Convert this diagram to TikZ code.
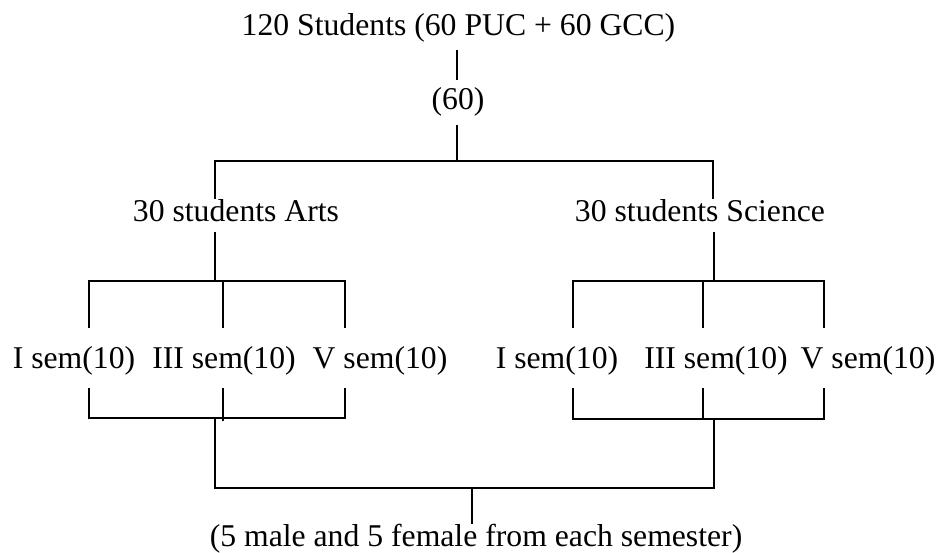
\documentclass[tikz,border=0pt]{standalone}
\usepackage{fontspec}
\setmainfont{Liberation Serif}
\begin{document}
\begin{tikzpicture}[x=1pt,y=-1pt,
  txt/.style={anchor=base, inner sep=0pt, font=\fontsize{31.7}{38}\selectfont},
  conn/.style={line width=1.5pt, line cap=rect}]
\useasboundingbox (0,0) rectangle (945,553);
% texts
\node[txt] (top)   at (458.5,36) {120 Students (60 PUC + 60 GCC)};
\node[txt] (sixty) at (458,110)  {(60)};
\node[txt] (arts)  at (236,222)  {30 students Arts};
\node[txt] (sci)   at (700,222)  {30 students Science};
\node[txt] (a1) at (74,368)  {I sem(10)};
\node[txt] (a3) at (224,368) {III sem(10)};
\node[txt] (a5) at (380,368) {V sem(10)};
\node[txt] (s1) at (557,368) {I sem(10)};
\node[txt] (s3) at (716,368) {III sem(10)};
\node[txt] (s5) at (868,368) {V sem(10)};
\node[txt] (bot) at (476,546.5) {(5 male and 5 female from each semester)};
% junction coordinates
\coordinate (t1) at (457,51);  \coordinate (t2) at (457,79);
\coordinate (m1) at (457,126); \coordinate (m2) at (457,161);
\coordinate (hl) at (215,161); \coordinate (hr) at (713,161);
\coordinate (al) at (215,198); \coordinate (sl) at (713,198);
% arts block
\coordinate (au) at (215,233); \coordinate (aj) at (215,281);
\coordinate (ab1) at (89,281); \coordinate (ab3) at (223,281); \coordinate (ab5) at (345,281);
\coordinate (ae1) at (89,327); \coordinate (ae3) at (223,327); \coordinate (ae5) at (345,327);
\coordinate (ad1) at (89,389); \coordinate (ad3) at (223,389); \coordinate (ad5) at (345,389);
\coordinate (af1) at (89,418); \coordinate (af3) at (223,420); \coordinate (af5) at (345,418);
% science block
\coordinate (su) at (714,233); \coordinate (sj) at (714,281);
\coordinate (sb1) at (573,281); \coordinate (sb3) at (703,281); \coordinate (sb5) at (824,281);
\coordinate (se1) at (573,327); \coordinate (se3) at (703,327); \coordinate (se5) at (824,327);
\coordinate (sd1) at (573,389); \coordinate (sd3) at (703,389); \coordinate (sd5) at (824,389);
\coordinate (sf1) at (573,419); \coordinate (sf3) at (703,419); \coordinate (sf5) at (824,419);
% bottom
\coordinate (ba) at (215,418); \coordinate (bs) at (714,419);
\coordinate (bla) at (215,488); \coordinate (bls) at (714,488);
\coordinate (bc) at (472,488); \coordinate (bce) at (472,523);
% connectors
\draw[conn] (t1) -- (t2);
\draw[conn] (m1) -- (m2);
\draw[conn] (al) -- (hl) -- (hr) -- (sl);
\draw[conn] (au) -- (aj);
\draw[conn] (ae1) -- (ab1) -- (ab5) -- (ae5);
\draw[conn] (ab3) -- (ae3);
\draw[conn] (ad1) -- (af1) -- (af5) -- (ad5);
\draw[conn] (ad3) -- (af3);
\draw[conn] (su) -- (sj);
\draw[conn] (se1) -- (sb1) -- (sb5) -- (se5);
\draw[conn] (sb3) -- (se3);
\draw[conn] (sd1) -- (sf1) -- (sf5) -- (sd5);
\draw[conn] (sd3) -- (sf3);
\draw[conn] (ba) -- (bla) -- (bls) -- (bs);
\draw[conn] (bc) -- (bce);
\end{tikzpicture}
\end{document}
